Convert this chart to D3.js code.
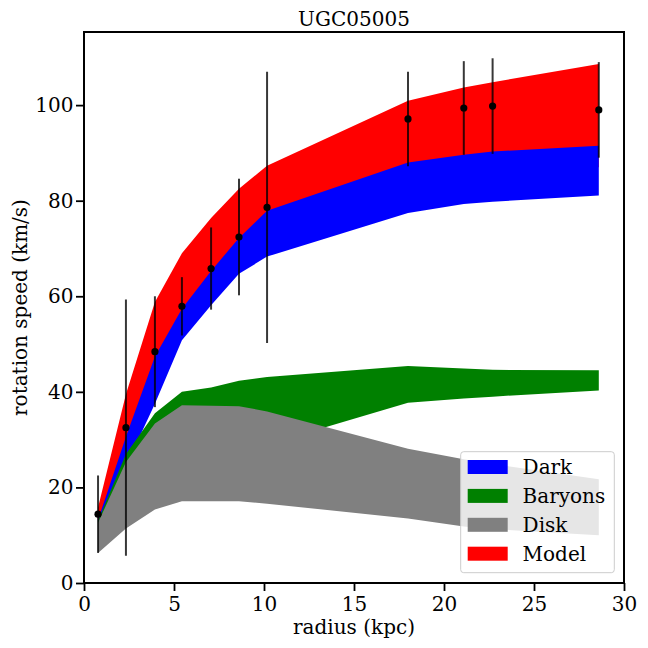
<!DOCTYPE html>
<html>
<head>
<meta charset="utf-8">
<script src="https://cdn.jsdelivr.net/npm/d3@7"></script>
<style>
  html, body { margin: 0; padding: 0; background: #fff; }
  svg { display: block; }
  text { font-family: "DejaVu Serif", serif; }
</style>
</head>
<body>
<svg id="chart" width="648" height="648"></svg>
<script>
// ---- data ----
const title = "UGC05005";
const radius = [0.78, 2.33, 3.94, 5.44, 7.06, 8.61, 10.17, 18.0, 21.1, 22.7, 28.6];
const vObs   = [14.4, 32.5, 48.4, 57.9, 65.8, 72.4, 78.6, 97.1, 99.4, 99.8, 99.0];
const vErr   = [8.1, 26.8, 11.6, 6.1, 8.6, 12.2, 28.4, 9.9, 9.8, 10.0, 10.0];

const modelLo = [12.5, 27.0, 42.0, 53.0, 61.0, 67.0, 72.0, 83.0, 85.0, 85.5, 87.0];
const modelHi = [15.8, 39.5, 58.8, 69.0, 76.4, 82.5, 87.3, 100.9, 103.7, 104.8, 108.6];
const darkLo  = [11.8, 24.5, 37.5, 50.8, 58.1, 64.7, 68.3, 77.4, 79.3, 79.8, 81.1];
const darkHi  = [13.2, 30.6, 47.4, 57.4, 65.3, 72.2, 77.9, 88.0, 89.6, 90.3, 91.5];
const baryLo  = [11.0, 22.5, 26.5, 27.2, 27.7, 28.3, 29.0, 37.7, 38.6, 39.0, 40.3];
const baryHi  = [13.0, 27.0, 35.5, 40.0, 40.9, 42.3, 43.1, 45.4, 44.9, 44.6, 44.5];
const diskLo  = [6.3, 11.4, 15.4, 17.1, 17.1, 17.1, 16.6, 13.5, 11.8, 11.3, 10.0];
const diskHi  = [12.6, 25.3, 33.4, 37.2, 37.1, 37.0, 35.9, 28.1, 25.9, 24.9, 21.7];

const xTicks = [0, 5, 10, 15, 20, 25, 30];
const yTicks = [0, 20, 40, 60, 80, 100];
const legendLabels = ["Dark", "Baryons", "Disk", "Model"];
const legendColors = ["#0000ff", "#008000", "#808080", "#ff0000"];

// ---- layout ----
const L = 84, R = 624, T = 32, B = 583;
const FS = 20;
const svg = d3.select("#chart");

const x = d3.scaleLinear().domain([0, 30]).range([L, R]);
const y = d3.scaleLinear().domain([0, 115.3]).range([B, T]);

// bands: drawn Model, Dark, Baryons, Disk
const bands = [
  {lo: modelLo, hi: modelHi, color: "#ff0000"},
  {lo: darkLo,  hi: darkHi,  color: "#0000ff"},
  {lo: baryLo,  hi: baryHi,  color: "#008000"},
  {lo: diskLo,  hi: diskHi,  color: "#808080"}
];
const area = (lo, hi) => d3.area()
  .x((d, i) => x(radius[i]))
  .y0((d, i) => y(lo[i]))
  .y1((d, i) => y(hi[i]));

const plot = svg.append("g");
bands.forEach(b => {
  plot.append("path")
    .datum(radius)
    .attr("d", area(b.lo, b.hi))
    .attr("fill", b.color)
    .attr("stroke", "none");
});

// error bars
plot.selectAll("line.err").data(radius).enter().append("line")
  .attr("class", "err")
  .attr("x1", (d) => x(d)).attr("x2", (d) => x(d))
  .attr("y1", (d, i) => y(vObs[i] - vErr[i]))
  .attr("y2", (d, i) => y(vObs[i] + vErr[i]))
  .attr("stroke", "#000").attr("stroke-opacity", 0.78)
  .attr("stroke-width", 2);

// points
plot.selectAll("circle.pt").data(radius).enter().append("circle")
  .attr("class", "pt")
  .attr("cx", (d) => x(d))
  .attr("cy", (d, i) => y(vObs[i]))
  .attr("r", 3.6)
  .attr("fill", "#000");

// axes
const xAxis = d3.axisBottom(x).tickValues(xTicks).tickSize(8).tickPadding(5.5).tickFormat(d3.format("d"));
const yAxis = d3.axisLeft(y).tickValues(yTicks).tickSize(8).tickPadding(2.5).tickFormat(d3.format("d"));

const gx = svg.append("g").attr("transform", `translate(0,${B})`).call(xAxis);
const gy = svg.append("g").attr("transform", `translate(${L},0)`).call(yAxis);
[gx, gy].forEach(g => {
  g.select(".domain").remove();
  g.selectAll(".tick line").attr("stroke", "#000").attr("stroke-width", 1.8);
  g.selectAll(".tick text").attr("fill", "#000")
    .style("font-family", '"DejaVu Serif", serif').style("font-size", FS + "px");
});

// frame
svg.append("rect")
  .attr("x", L).attr("y", T).attr("width", R - L).attr("height", B - T)
  .attr("fill", "none").attr("stroke", "#000").attr("stroke-width", 2);

// title and labels
svg.append("text").attr("x", (L + R) / 2).attr("y", 26)
  .attr("text-anchor", "middle").style("font-size", FS + "px").text(title);
svg.append("text").attr("x", (L + R) / 2).attr("y", 634)
  .attr("text-anchor", "middle").style("font-size", FS + "px").text("radius (kpc)");
svg.append("text")
  .attr("transform", `translate(26.5,${(T + B) / 2}) rotate(-90)`)
  .attr("text-anchor", "middle").style("font-size", FS + "px").text("rotation speed (km/s)");

// legend
const lg = svg.append("g");
lg.append("rect")
  .attr("x", 460.7).attr("y", 451.7).attr("width", 153.6).attr("height", 121)
  .attr("rx", 3).attr("ry", 3)
  .attr("fill", "#fff").attr("fill-opacity", 0.8)
  .attr("stroke", "#cccccc").attr("stroke-width", 1);
const rowY = d3.scaleLinear().domain([0, 3]).range([467, 553.7]);
legendLabels.forEach((lab, i) => {
  lg.append("rect")
    .attr("x", 467.7).attr("y", rowY(i) - 7).attr("width", 40).attr("height", 14)
    .attr("fill", legendColors[i]);
  lg.append("text")
    .attr("x", 522.6).attr("y", rowY(i) + 7.2)
    .style("font-size", FS + "px").text(lab);
});
</script>
</body>
</html>
